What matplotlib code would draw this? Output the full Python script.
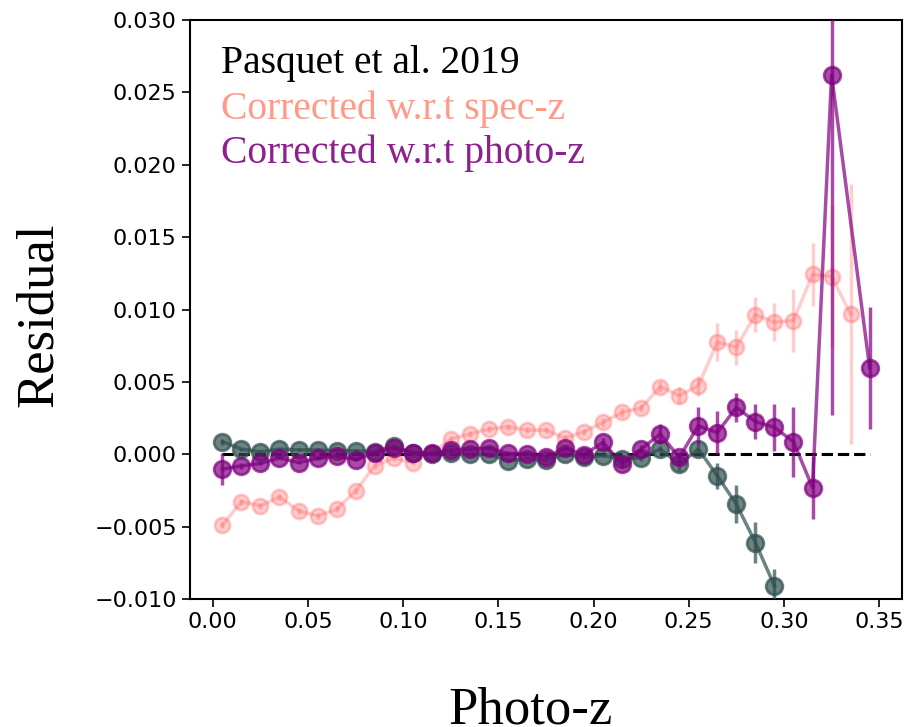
import matplotlib
matplotlib.use('Agg')
import matplotlib.pyplot as plt
import numpy as np

# redshift bins (bin centres)
z_pasq = [0.005, 0.015, 0.025, 0.035, 0.045, 0.055, 0.065, 0.075, 0.085, 0.095,
          0.105, 0.115, 0.125, 0.135, 0.145, 0.155, 0.165, 0.175, 0.185, 0.195,
          0.205, 0.215, 0.225, 0.235, 0.245, 0.255, 0.265, 0.275, 0.285, 0.295]
res_pasq = [0.00087, 0.00036, 0.00017, 0.00036, 0.0003, 0.0003, 0.00024, 0.00024, 0.00017, 0.00059,
            0.00006, 0.0, 0.0001, 0.0, 0.0, -0.00045, -0.0003, -0.0004, 0.0, -0.0002,
            -0.0001, -0.0003, -0.00026, 0.00036, -0.00068, 0.00036, -0.00149, -0.00345, -0.0061, -0.0091]
err_pasq = [0.0002, 0.0001, 0.0001, 0.0001, 0.0001, 0.0001, 0.0001, 0.0001, 0.0001, 0.0001,
            0.0001, 0.0001, 0.0001, 0.0001, 0.0001, 0.0001, 0.0001, 0.0001, 0.0001, 0.0001,
            0.0001, 0.0002, 0.0002, 0.0002, 0.0005, 0.0003, 0.0009, 0.0013, 0.0014, 0.0012]

z_spec = [0.005, 0.015, 0.025, 0.035, 0.045, 0.055, 0.065, 0.075, 0.085, 0.095,
          0.105, 0.115, 0.125, 0.135, 0.145, 0.155, 0.165, 0.175, 0.185, 0.195,
          0.205, 0.215, 0.225, 0.235, 0.245, 0.255, 0.265, 0.275, 0.285, 0.295,
          0.305, 0.315, 0.325, 0.335]
res_spec = [-0.0049, -0.00327, -0.00356, -0.00294, -0.0039, -0.00426, -0.0038, -0.00253, -0.0008, -0.00026,
            -0.00057, 0.0001, 0.00105, 0.0014, 0.00174, 0.0019, 0.00167, 0.00167, 0.00112, 0.00156,
            0.0022, 0.0029, 0.0032, 0.00467, 0.00405, 0.00474, 0.00774, 0.0074, 0.00965, 0.00912,
            0.00924, 0.01242, 0.01228, 0.0097]
err_spec = [0.0002, 0.0002, 0.0002, 0.0002, 0.0002, 0.0002, 0.0002, 0.0002, 0.0002, 0.0002,
            0.0002, 0.0002, 0.0002, 0.0002, 0.0002, 0.0002, 0.0002, 0.0002, 0.0002, 0.0002,
            0.0003, 0.0003, 0.0003, 0.0004, 0.0006, 0.0007, 0.0013, 0.0012, 0.0012, 0.0013,
            0.0022, 0.0022, 0.0049, 0.009]

z_phot = [0.005, 0.015, 0.025, 0.035, 0.045, 0.055, 0.065, 0.075, 0.085, 0.095,
          0.105, 0.115, 0.125, 0.135, 0.145, 0.155, 0.165, 0.175, 0.185, 0.195,
          0.205, 0.215, 0.225, 0.235, 0.245, 0.255, 0.265, 0.275, 0.285, 0.295,
          0.305, 0.315, 0.325, 0.345]
res_phot = [-0.00103, -0.0008, -0.00063, -0.00026, -0.00057, -0.00029, -0.0001, -0.00038, 0.00012, 0.00043,
            0.00012, 0.00006, 0.0003, 0.00036, 0.00043, 0.00006, 0.0, -0.00017, 0.0004, -0.00003,
            0.00082, -0.00068, 0.00036, 0.0014, -0.00022, 0.00197, 0.0015, 0.00324, 0.00225, 0.00186,
            0.00086, -0.0023, 0.0262, 0.00597]
err_phot = [0.0011, 0.0002, 0.0001, 0.0001, 0.0001, 0.0001, 0.0001, 0.0001, 0.0001, 0.0001,
            0.0001, 0.0001, 0.0001, 0.0001, 0.0001, 0.0001, 0.0001, 0.0001, 0.0001, 0.0001,
            0.0003, 0.0003, 0.0003, 0.0007, 0.0004, 0.0013, 0.0015, 0.001, 0.0012, 0.0016,
            0.0024, 0.0022, 0.0235, 0.0042]

fig = plt.figure(figsize=(9.07, 7.27), dpi=100)
ax = fig.add_axes([0.2095, 0.176, 0.785, 0.7965])

ax.errorbar(z_spec, res_spec, yerr=err_spec, fmt='-o', color='#ff5a5a', alpha=0.3,
            ms=11, mew=2, lw=2.5, elinewidth=2.5, zorder=1)
ax.plot([z_spec[0], z_phot[-1]], [0, 0], 'k--', lw=2.2, zorder=2)
ax.errorbar(z_pasq, res_pasq, yerr=err_pasq, fmt='-o', color='darkslategray', alpha=0.7,
            ms=12, mew=2, lw=2.5, elinewidth=2.5, zorder=3)
ax.errorbar(z_phot, res_phot, yerr=err_phot, fmt='-o', color='purple', alpha=0.7,
            ms=12, mew=2, lw=2.5, elinewidth=2.5, zorder=4)

ax.set_ylim(-0.010, 0.030)
ax.set_yticks(np.arange(-0.010, 0.0301, 0.005))
ax.set_xticks(np.arange(0, 0.351, 0.05))
ax.tick_params(labelsize=16, length=6, width=1.2)
for s in ax.spines.values():
    s.set_linewidth(1.5)

serif = ['Liberation Serif', 'DejaVu Serif']
ax.set_ylabel('Residual', fontsize=38, family=serif)
ax.yaxis.set_label_coords(-0.178, 0.49)
fig.text(531 / 907, 4 / 727, 'Photo-z', fontsize=38, family=serif,
         ha='center', va='baseline')

ax.text(0.0435, 0.909, 'Pasquet et al. 2019', transform=ax.transAxes, fontsize=28.5,
        family=serif, color='black', va='baseline')
ax.text(0.0435, 0.829, 'Corrected w.r.t spec-z', transform=ax.transAxes, fontsize=28.5,
        family=serif, color='#ff9a88', va='baseline')
ax.text(0.0435, 0.7535, 'Corrected w.r.t photo-z', transform=ax.transAxes, fontsize=28.5,
        family=serif, color='#8e1f8e', va='baseline')

fig.savefig('out.png', dpi=100)
